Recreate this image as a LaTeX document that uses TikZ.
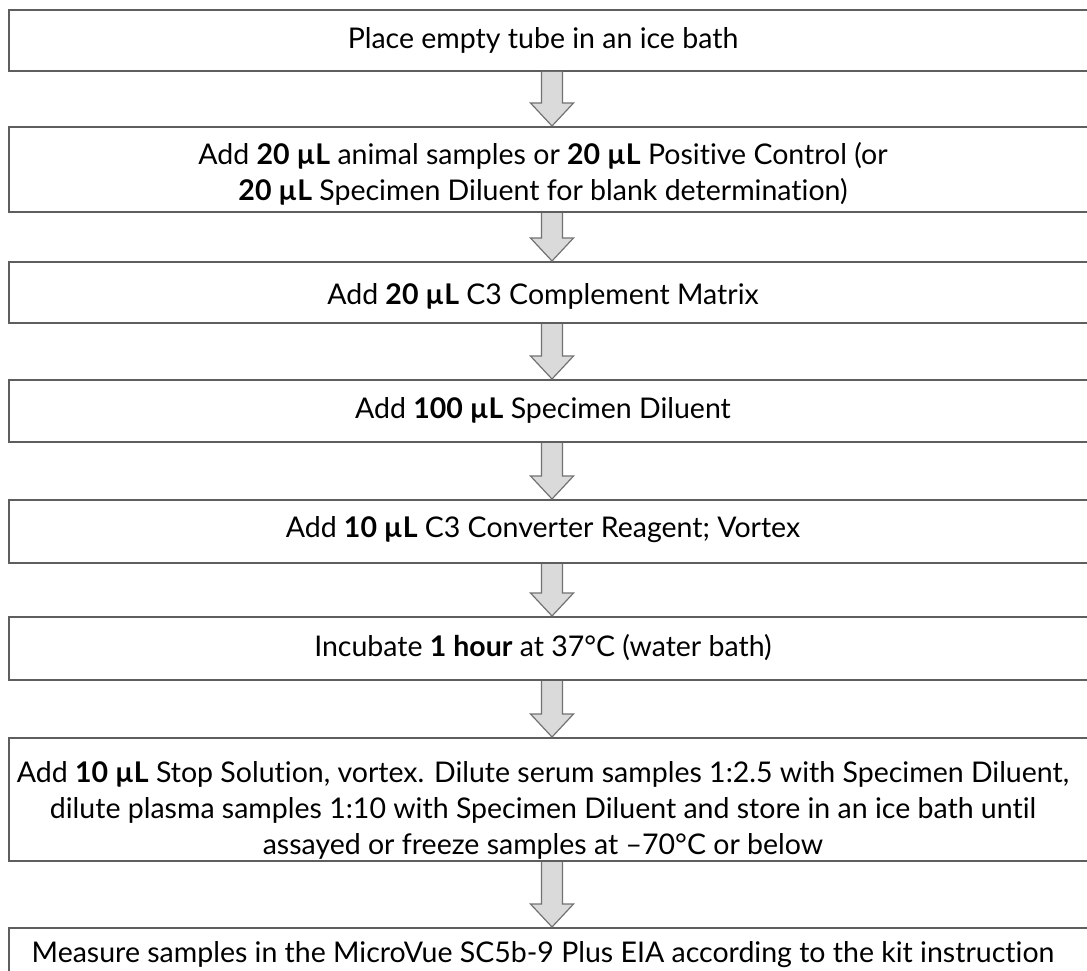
\documentclass[tikz,border=0pt]{standalone}
\usepackage{fontspec}
\setmainfont{Lato}[Ligatures={NoCommon,NoRare}]
\usetikzlibrary{calc}

\definecolor{framegray}{HTML}{5E5E5E}
\definecolor{arrowfill}{HTML}{DADADA}
\definecolor{arrowline}{HTML}{727272}

\tikzset{
  stepframe/.style={draw=framegray, line width=2pt, anchor=north west,
    minimum width=1100pt, inner sep=0pt},
  steptext/.style={align=center, inner sep=0pt,
    font=\fontsize{28.5}{36}\selectfont},
}

% block arrow from the bottom of one frame to the top of the next
\newcommand{\blockarrow}[2]{%
  \filldraw[fill=arrowfill, draw=arrowline, line width=1.2pt, line join=miter]
    ($(#1.south -| spine)+(-10.5,0)$) -- ($(#2.north -| spine)+(-10.5,-23)$)
    -- ($(#2.north -| spine)+(-21.5,-23)$) -- (#2.north -| spine)
    -- ($(#2.north -| spine)+(21.5,-23)$) -- ($(#2.north -| spine)+(10.5,-23)$)
    -- ($(#1.south -| spine)+(10.5,0)$);}

\begin{document}
\begin{tikzpicture}[x=1pt,y=-1pt]
\useasboundingbox (0,0) rectangle (1087,971);
\clip (0,0) rectangle (1087,971);
\coordinate (spine) at (552,0);

% frames
\node[stepframe, minimum height=61pt] (b1) at (8,9) {};
\node[stepframe, minimum height=85pt] (b2) at (8,126) {};
\node[stepframe, minimum height=61pt] (b3) at (8,261) {};
\node[stepframe, minimum height=62pt] (b4) at (8,379) {};
\node[stepframe, minimum height=63pt] (b5) at (8,499) {};
\node[stepframe, minimum height=63pt] (b6) at (8,616) {};
\node[stepframe, minimum height=123pt] (b7) at (8,737) {};
\node[stepframe, minimum height=80pt] (b8) at (8,927) {};

% texts
\node[steptext] (t1) at (543,40) {Place empty tube in an ice bath};
\node[steptext] (t2) at (543,174) {Add \textbf{20 µL} animal samples or \textbf{20 µL} Positive Control (or\\
  \textbf{20 µL} Specimen Diluent for blank determination)};
\node[steptext] (t3) at (543,296) {Add \textbf{20 µL} C3 Complement Matrix};
\node[steptext] (t4) at (543,410) {Add \textbf{100 µL} Specimen Diluent};
\node[steptext] (t5) at (543,530) {Add \textbf{10 µL} C3 Converter Reagent; Vortex};
\node[steptext] (t6) at (543,648) {Incubate \textbf{1 hour} at 37°C (water bath)};
\node[steptext] (t7) at (543,810) {Add \textbf{10 µL} Stop Solution, vortex. Dilute serum samples 1:2.5 with Specimen Diluent,\\
  dilute plasma samples 1:10 with Specimen Diluent and store in an ice bath until\\
  assayed or freeze samples at –70°C or below};
\node[steptext] (t8) at (543,955) {Measure samples in the MicroVue SC5b-9 Plus EIA according to the kit instruction};

% arrows
\foreach \a/\b in {b1/b2, b2/b3, b3/b4, b4/b5, b5/b6, b6/b7, b7/b8}
  {\blockarrow{\a}{\b}}
\end{tikzpicture}
\end{document}
